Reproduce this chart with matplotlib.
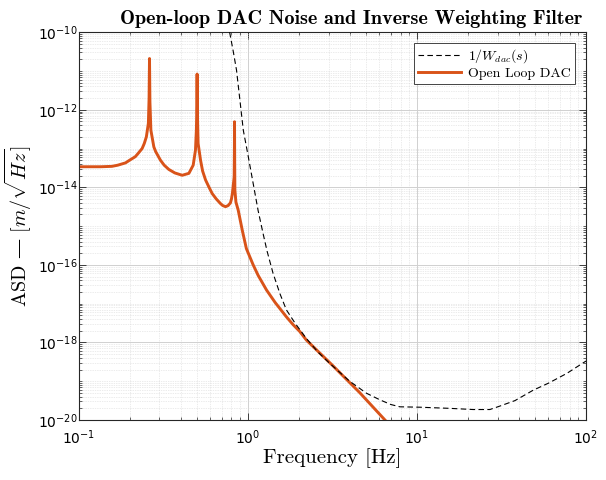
import numpy as np
import matplotlib
matplotlib.use("Agg")
import matplotlib.pyplot as plt
from matplotlib.ticker import LogLocator, FixedLocator, NullFormatter, FuncFormatter

# Open loop DAC noise (frequency [Hz], log10 ASD)
ol_freq = [0.1, 0.12, 0.135, 0.157, 0.17, 0.189, 0.2, 0.216, 0.225, 0.237, 0.244, 0.251,
           0.258, 0.2605, 0.262, 0.2635, 0.267, 0.278, 0.285, 0.304, 0.32, 0.341, 0.37,
           0.409, 0.448, 0.475, 0.490, 0.496, 0.4995, 0.501, 0.5025, 0.508, 0.525, 0.54,
           0.562, 0.585, 0.615, 0.65, 0.689, 0.71, 0.738, 0.765, 0.789, 0.80, 0.81, 0.83,
           0.8325, 0.834, 0.8355, 0.838, 0.85, 0.877, 0.926, 0.98, 1.075, 1.15, 1.29, 1.45,
           1.69, 1.85, 2.03, 2.22, 3.2, 4.6, 6.47]
ol_log_asd = [-13.47, -13.47, -13.47, -13.46, -13.43, -13.37, -13.30, -13.21, -13.12,
              -13.00, -12.87, -12.70, -12.35, -11.7, -10.68, -11.8, -12.53, -12.96, -13.08,
              -13.30, -13.43, -13.54, -13.63, -13.69, -13.64, -13.43, -13.04, -12.53, -11.9,
              -11.08, -12.0, -12.87, -13.30, -13.58, -13.81, -13.97, -14.16, -14.30, -14.42,
              -14.47, -14.50, -14.47, -14.40, -14.30, -14.16, -13.73, -13.1, -12.31, -13.2,
              -14.07, -14.38, -14.59, -15.10, -15.58, -16.0, -16.27, -16.65, -16.97, -17.34,
              -17.54, -17.72, -17.94, -18.61, -19.30, -20.0]

# Inverse weighting filter 1/W_dac
w_freq = [0.78, 0.82, 0.857, 0.94, 1.0, 1.075, 1.15, 1.23, 1.3, 1.41, 1.55, 1.69, 1.9,
          2.22, 2.6, 3.05, 4.0, 5.03, 6.04, 7.0, 7.93, 10.4, 15.7, 21.5, 27.0, 31.0, 38.0,
          48.8, 60.0, 76.9, 100.0]
w_log_asd = [-10.0, -10.5, -10.98, -12.53, -13.15, -13.9, -14.6, -15.19, -15.65, -16.22,
             -16.75, -17.16, -17.5, -17.9, -18.25, -18.54, -19.0, -19.31, -19.48, -19.6,
             -19.66, -19.67, -19.70, -19.73, -19.73, -19.64, -19.5, -19.23, -19.05, -18.80,
             -18.48]

plt.rcParams['mathtext.fontset'] = 'cm'

fig = plt.figure(figsize=(6.06, 4.8), dpi=100)
ax = fig.add_axes([0.130, 0.125, 0.837, 0.808])

ax.plot(w_freq, 10.0 ** np.array(w_log_asd), '--', color='black', lw=0.8,
        dashes=(5, 3), label=r'$1/W_{dac}(s)$', zorder=3)
ax.plot(ol_freq, 10.0 ** np.array(ol_log_asd), '-', color='#D95319', lw=2.1,
        label='Open Loop DAC', zorder=2, solid_joinstyle='round')

ax.set_xscale('log')
ax.set_yscale('log')
ax.set_xlim(0.1, 100)
ax.set_ylim(1e-20, 1e-10)

ax.yaxis.set_major_locator(FixedLocator([1e-20, 1e-18, 1e-16, 1e-14, 1e-12, 1e-10]))
ax.yaxis.set_minor_locator(LogLocator(base=10, subs=np.arange(1, 10), numticks=100))
ax.xaxis.set_major_locator(FixedLocator([0.1, 1, 10, 100]))
ax.xaxis.set_minor_locator(LogLocator(base=10, subs=np.arange(2, 10), numticks=100))
ax.yaxis.set_minor_formatter(NullFormatter())
ax.xaxis.set_minor_formatter(NullFormatter())

def fmt(v, pos):
    e = int(round(np.log10(v)))
    return r'$10^{%d}$' % e

ax.xaxis.set_major_formatter(FuncFormatter(fmt))
ax.yaxis.set_major_formatter(FuncFormatter(fmt))
for lab in ax.get_xticklabels() + ax.get_yticklabels():
    lab.set_math_fontfamily('dejavusans')
ax.tick_params(axis='both', which='major', labelsize=10, direction='in', top=True,
               right=True, length=5, width=0.6, color='#262626')
ax.tick_params(axis='both', which='minor', direction='in', top=True, right=True,
               length=2.5, width=0.5, color='#262626')
ax.tick_params(axis='x', which='major', pad=6)
ax.tick_params(axis='y', which='major', pad=1)

ax.grid(True, which='major', color='#d0d0d0', lw=0.7, ls='-')
ax.grid(True, which='minor', color='#d8d8d8', lw=0.5, ls=(0, (1, 1.5)))
ax.set_axisbelow(True)
for s in ax.spines.values():
    s.set_linewidth(0.8)
    s.set_color('#262626')

ax.set_xlabel('Frequency [Hz]', fontfamily='cmr10', fontsize=15, labelpad=1)
yl = ax.set_ylabel(r'$\mathrm{ASD}$ — $[m/\sqrt{Hz}]$', fontsize=14.5,
                   fontfamily='DejaVu Serif')
yl.set_math_fontfamily('cm')
ax.yaxis.set_label_coords(-0.088, 0.5)
ax.set_title('Open-loop DAC Noise and Inverse Weighting Filter', fontfamily='cmb10',
             fontsize=14.5, pad=6, x=0.538)

leg = ax.legend(loc='upper right', prop={'family': 'cmr10', 'size': 10},
                fancybox=False, edgecolor='#262626', framealpha=1,
                borderaxespad=0.8, handlelength=3.1, handletextpad=0.5,
                borderpad=0.3, labelspacing=0.15)
leg.get_frame().set_linewidth(0.6)
for t in leg.get_texts():
    t.set_math_fontfamily('cm')

fig.savefig('out.png', dpi=100)
